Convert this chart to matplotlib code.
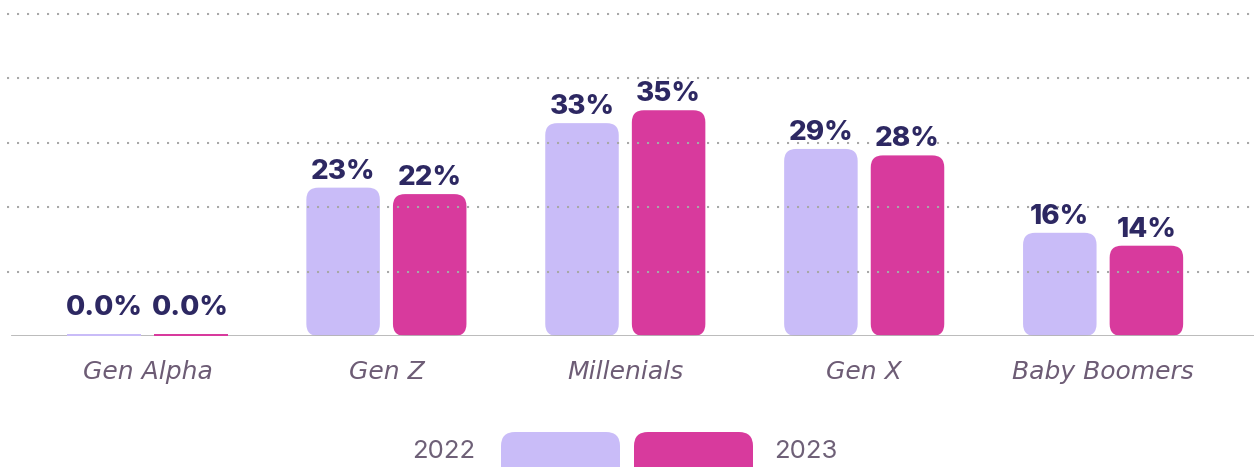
import matplotlib
matplotlib.use("Agg")
import matplotlib.pyplot as plt
from matplotlib.patches import FancyBboxPatch, Rectangle

# ---------------- data ----------------
categories = ["Gen Alpha", "Gen Z", "Millenials", "Gen X", "Baby Boomers"]
series_names = ["2022", "2023"]
values_2022 = [0.0, 23, 33, 29, 16]
values_2023 = [0.0, 22, 35, 28, 14]
labels_2022 = ["0.0%", "23%", "33%", "29%", "16%"]
labels_2023 = ["0.0%", "22%", "35%", "28%", "14%"]
yticks = [10, 20, 30, 40, 50]

# ---------------- style ----------------
C2022 = "#c9bcf8"
C2023 = "#d83a9d"
LABEL_C = "#2d2862"
CAT_C = "#6d5c75"
LEG_C = "#6e6077"
GRID_C = "#a8a8a8"
BASE_C = "#b4b4b4"

W, H, DPI = 1254, 467, 100
fig = plt.figure(figsize=(W / DPI, H / DPI), dpi=DPI)

base_px = 336
px_per_unit = 6.45
cat_px0 = 147.5
cat_step = 238.9
ax_left_px = 7
bar_w = 73.5 / cat_step
bar_off = 43.3 / cat_step
r_px = 12

ax = fig.add_axes([ax_left_px / W, (H - base_px) / H, (W - ax_left_px) / W, base_px / H])
ax.set_xlim((ax_left_px - cat_px0) / cat_step, (W - cat_px0) / cat_step)
ax.set_ylim(0, base_px / px_per_unit)

aspect = cat_step / px_per_unit
r_x = r_px / cat_step
r_y = r_px / px_per_unit

for vals, labs, off, col in [(values_2022, labels_2022, -bar_off, C2022),
                             (values_2023, labels_2023, bar_off, C2023)]:
    bars = ax.bar([i + off for i in range(len(categories))], vals, width=bar_w,
                  color=col, alpha=0)
    for b, v, lab in zip(bars, vals, labs):
        x, w = b.get_x(), b.get_width()
        h = b.get_height()
        if h < 2 * r_y:
            ax.add_patch(Rectangle((x, 0), w, 2.4 / px_per_unit, facecolor=col,
                                   edgecolor="none", zorder=2.2))
        else:
            ax.add_patch(FancyBboxPatch((x, 0), w, h,
                                        boxstyle=f"round,pad=0,rounding_size={r_x}",
                                        mutation_aspect=aspect,
                                        facecolor=col, edgecolor="none", zorder=1))
        ax.annotate(lab, (x + w / 2, max(v, r_y)), xytext=(0, 9 * 0.72),
                    textcoords="offset points", ha="center", va="baseline",
                    fontsize=20, fontweight="heavy", family="Inter", color=LABEL_C,
                    zorder=4)

for i, c in enumerate(categories):
    ax.annotate(c, (i, 0), xytext=(0, -36 * 0.72), textcoords="offset points",
                ha="center", va="center", fontsize=18, style="italic",
                family="DejaVu Sans", color=CAT_C, annotation_clip=False)

ax.set_yticks(yticks)
ax.set_xticks([])
ax.yaxis.grid(True, color=GRID_C, linestyle=(0, (1, 3.8)), linewidth=1.5)
ax.set_axisbelow(False)
ax.tick_params(left=False, labelleft=False, bottom=False)
for s in ax.spines.values():
    s.set_visible(False)
ax.axhline(0, xmin=5 / (W - ax_left_px), xmax=1, color=BASE_C, linewidth=2.0, zorder=2)
ax.patch.set_alpha(0)

# ---------------- legend ----------------
lax = fig.add_axes([0, 0, 1, 1])
lax.set_xlim(0, W)
lax.set_ylim(H, 0)
lax.axis("off")
for x, col in [(501, C2022), (634, C2023)]:
    lax.add_patch(FancyBboxPatch((x, 432), 119, 60,
                                 boxstyle="round,pad=0,rounding_size=14",
                                 facecolor=col, edgecolor="none"))
lax.text(475, 451, series_names[0], ha="right", va="center", fontsize=18.5,
         family="Inter", color=LEG_C)
lax.text(774, 451, series_names[1], ha="left", va="center", fontsize=18.5,
         family="Inter", color=LEG_C)

fig.savefig("out.png", dpi=DPI)
